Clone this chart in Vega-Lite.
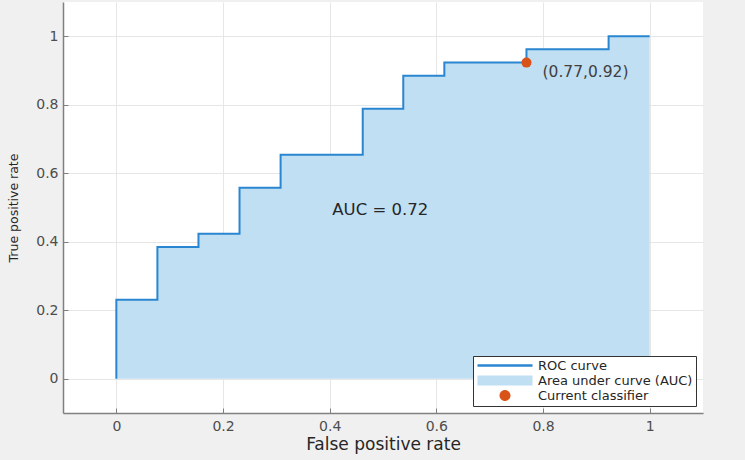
{
  "$schema": "https://vega.github.io/schema/vega-lite/v6.json",
  "autosize": {"type": "none"},
  "width": 640,
  "height": 411,
  "padding": {"left": 63, "top": 2, "right": 42, "bottom": 47},
  "background": "#f0f0f0",
  "config": {
    "view": {"fill": "white", "stroke": null},
    "font": "DejaVu Sans",
    "axis": {
      "domainColor": "#808080",
      "domainWidth": 1.5,
      "tickColor": "#808080",
      "tickSize": -5,
      "gridColor": "#e6e6e6",
      "labelColor": "#4d4d4d",
      "labelFontSize": 14,
      "labelFont": "DejaVu Sans",
      "titleFont": "DejaVu Sans",
      "titleFontWeight": "normal",
      "titleColor": "#262626"
    }
  },
  "datasets": {
    "roc": [
      {"fpr": 0, "tpr": 0},
      {"fpr": 0, "tpr": 0.231},
      {"fpr": 0.077, "tpr": 0.385},
      {"fpr": 0.154, "tpr": 0.423},
      {"fpr": 0.231, "tpr": 0.558},
      {"fpr": 0.308, "tpr": 0.654},
      {"fpr": 0.462, "tpr": 0.788},
      {"fpr": 0.538, "tpr": 0.885},
      {"fpr": 0.615, "tpr": 0.923},
      {"fpr": 0.769, "tpr": 0.962},
      {"fpr": 0.923, "tpr": 1},
      {"fpr": 1, "tpr": 1}
    ],
    "current": [
      {"fpr": 0.769, "tpr": 0.923, "label": "(0.77,0.92)"}
    ],
    "auc": [
      {"fpr": 0.405, "tpr": 0.493, "label": "AUC = 0.72"}
    ]
  },
  "encoding": {
    "x": {
      "field": "fpr", "type": "quantitative",
      "scale": {"domain": [-0.1, 1.1], "nice": false, "zero": false},
      "axis": {"title": "False positive rate", "titleFontSize": 17, "values": [0, 0.2, 0.4, 0.6, 0.8, 1], "labelPadding": 11, "titlePadding": 3, "format": "~g"}
    },
    "y": {
      "field": "tpr", "type": "quantitative",
      "scale": {"domain": [-0.1, 1.1], "nice": false, "zero": false},
      "axis": {"title": "True positive rate", "titleFontSize": 12.5, "values": [0, 0.2, 0.4, 0.6, 0.8, 1], "labelPadding": 10, "titlePadding": 15, "format": "~g"}
    }
  },
  "layer": [
    {
      "data": {"name": "roc"},
      "mark": {"type": "area", "interpolate": "step-after", "opacity": 1},
      "encoding": {
        "y2": {"datum": 0},
        "color": {"datum": "Area under curve (AUC)"}
      }
    },
    {
      "data": {"name": "roc"},
      "mark": {"type": "line", "interpolate": "step-after", "strokeWidth": 2},
      "encoding": {
        "color": {
          "datum": "ROC curve",
          "type": "nominal",
          "scale": {
            "domain": ["ROC curve", "Area under curve (AUC)", "Current classifier"],
            "range": ["#2a86d0", "#c0dff3", "#d95319"]
          },
          "legend": {
            "title": null,
            "orient": "bottom-right",
            "offset": 7,
            "fillColor": "white",
            "strokeColor": "#333333",
            "padding": 3,
            "labelFontSize": 13,
            "labelLimit": 300,
            "labelColor": "#262626",
            "labelFont": "DejaVu Sans",
            "symbolSize": 100,
            "rowPadding": 1,
            "labelOffset": 49,
            "encode": {
              "symbols": {
                "update": {
                  "shape": {"signal": "datum.value === 'ROC curve' ? 'M-1,0H10' : datum.value === 'Current classifier' ? 'M3.4,0A1.1,1.1 0 1,0 5.6,0A1.1,1.1 0 1,0 3.4,0Z' : 'M-1,-1H10V1H-1Z'"},
                  "fill": {"signal": "datum.value === 'ROC curve' ? 'transparent' : datum.value === 'Current classifier' ? '#d95319' : '#c0dff3'"},
                  "stroke": {"signal": "datum.value === 'ROC curve' ? '#2a86d0' : 'transparent'"},
                  "strokeWidth": {"signal": "datum.value === 'ROC curve' ? 2.5 : 0"},
                  "opacity": {"value": 1},
                  "fillOpacity": {"value": 1},
                  "strokeOpacity": {"value": 1}
                }
              }
            }
          }
        }
      }
    },
    {
      "data": {"name": "current"},
      "mark": {"type": "point", "filled": true, "size": 100, "opacity": 1},
      "encoding": {"color": {"datum": "Current classifier"}}
    },
    {
      "data": {"name": "current"},
      "mark": {"type": "text", "align": "left", "dx": 16, "dy": 9, "fontSize": 15.5, "color": "#404040"},
      "encoding": {"text": {"field": "label"}}
    },
    {
      "data": {"name": "auc"},
      "mark": {"type": "text", "align": "left", "fontSize": 16.5, "color": "#262626"},
      "encoding": {"text": {"field": "label"}}
    }
  ]
}
